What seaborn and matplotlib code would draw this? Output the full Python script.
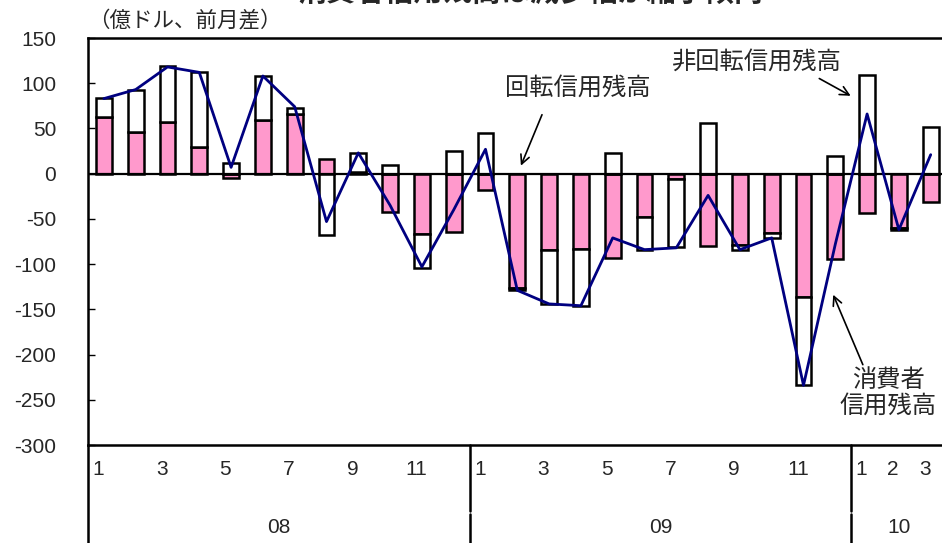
import numpy as np
import pandas as pd
import matplotlib
matplotlib.use("Agg")
import matplotlib.pyplot as plt
import seaborn as sns

# 08/1 - 10/3, monthly change (100 million USD)
month_labels = ['1', '', '3', '', '5', '', '7', '', '9', '', '11', '',
                '1', '', '3', '', '5', '', '7', '', '9', '', '11', '',
                '1', '2', '3']
years = ['08', '09', '10']
revolving = [63, 46, 57, 30, -5, 59, 66, 16, 2, -42, -67, -65,
             -18, -126, -84, -83, -93, -48, -6, -80, -79, -66, -136, -94,
             -43, -60, -31]
nonrevolving = [21, 47, 62, 82, 12, 49, 7, -68, 21, 10, -37, 25,
                45, -3, -60, -63, 23, -36, -75, 56, -5, -5, -98, 19,
                109, -2, 52]
total = [83, 93, 118, 112, 7, 108, 74, -53, 23, -35, -103, -40,
         27, -129, -144, -146, -71, -84, -82, -24, -84, -71, -234, -78,
         66, -62, 21]

sns.set_style("white")
plt.rcParams['font.family'] = ['Liberation Sans', 'Noto Sans CJK JP', 'DejaVu Sans']
plt.rcParams['axes.unicode_minus'] = False

idx = np.arange(len(revolving))
rev = np.array(revolving)
non = np.array(nonrevolving)
# excel style stacking: same sign stacks on top, opposite sign starts from 0
non_bottom = np.where(np.sign(rev) == np.sign(non), rev, 0)

fig = plt.figure(figsize=(9.42, 5.43), dpi=100)
ax = fig.add_axes([88 / 942, 98 / 543, 858.6 / 942, 407 / 543])

sns.barplot(x=idx, y=revolving, color='#FF99CC', saturation=1, width=0.5,
            edgecolor='black', linewidth=1.8, errorbar=None, ax=ax)
sns.barplot(x=idx, y=nonrevolving, bottom=non_bottom, color='white', saturation=1,
            width=0.5, edgecolor='black', linewidth=1.8, errorbar=None, ax=ax)
ax.axhline(0, color='black', lw=1.6, zorder=2.5)
sns.lineplot(x=idx, y=total, color='#000080', linewidth=2, ax=ax, zorder=3)

ax.set_xlim(-0.5, 26.5)
ax.set_ylim(-300, 150)
ax.set_yticks(range(-300, 151, 50))
ax.set_xticks([])
ax.set_xlabel('')
ax.set_ylabel('')
ax.tick_params(axis='y', direction='in', length=5, width=1, color='black',
               labelsize=15, pad=23, left=True)
for s in ['left', 'top', 'bottom']:
    ax.spines[s].set_visible(True)
    ax.spines[s].set_color('black')
    ax.spines[s].set_linewidth(1.8)
ax.spines['right'].set_visible(False)

# category axis below the plot
trans = ax.get_xaxis_transform()
for i, lab in enumerate(month_labels):
    if lab:
        ax.text(i - 0.18, -0.061, lab, transform=trans, ha='center', va='center', fontsize=15)
for yr, pos in zip(years, [5.5, 17.5, 25]):
    ax.text(pos, -0.2015, yr, transform=trans, ha='center', va='center', fontsize=15)
ax.plot([-0.5, -0.5], [0, -0.25], transform=trans, color='black', lw=1.8, clip_on=False)
for xs in [11.5, 23.5]:
    ax.plot([xs, xs], [0, -0.162], transform=trans, color='black', lw=1.8, clip_on=False)
    ax.plot([xs, xs], [-0.170, -0.25], transform=trans, color='black', lw=1.8, clip_on=False)

# annotations
arrow = dict(arrowstyle='->', lw=1.2, color='black', mutation_scale=16)
ax.text(14.91, 94.6, '回転信用残高', ha='center', va='center', fontsize=17.5)
ax.annotate('', xy=(13.08, 6), xytext=(13.81, 68), arrowprops=arrow)
ax.text(20.54, 123, '非回転信用残高', ha='center', va='center', fontsize=17.5)
ax.annotate('', xy=(23.56, 84.6), xytext=(22.42, 106.7), arrowprops=arrow)
ax.text(24.66, -243, '消費者\n信用残高', ha='center', va='center', fontsize=17.5,
        linespacing=1.1)
ax.annotate('', xy=(22.9, -131), xytext=(23.9, -214), arrowprops=arrow)

fig.text(0.094, 1 - 22 / 543, '（億ドル、前月差）', ha='left', va='center', fontsize=15.5)
fig.text(0.563, 1.013, '消費者信用残高は減少幅が縮小傾向', ha='center', va='center',
         fontsize=21, fontweight='bold')

fig.savefig('out.png', dpi=100)
